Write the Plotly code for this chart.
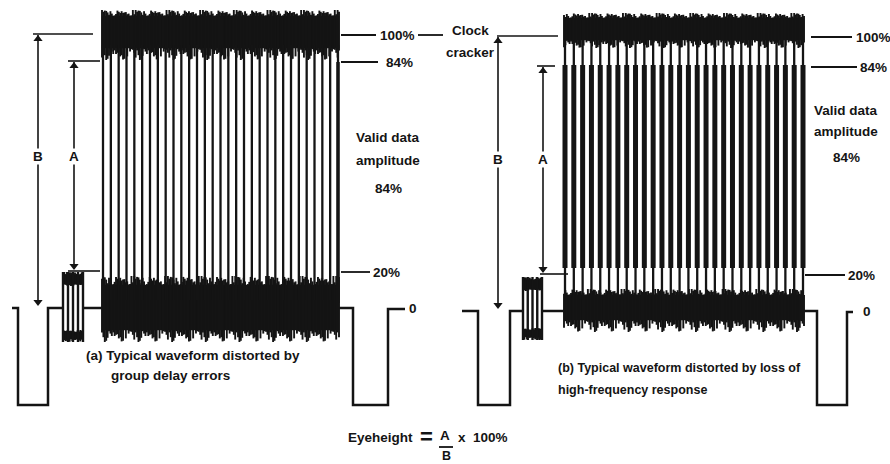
import plotly.graph_objects as go

# ---------------- data ----------------
LEVEL_LABELS = ["100%", "84%", "20%", "0"]
LEVELS_A = [35, 62, 272, 308]     # signal levels of panel (a), in drawing units (larger = lower)
LEVELS_B = [37, 67, 275, 311]     # signal levels of panel (b)
TRANSITIONS_A = 31                # data transitions visible inside each data burst
TRANSITIONS_B = 28
BURST_CYCLES = 5                  # cycles in the short clock burst before the data
VALID_TEXT = ["Valid data", "amplitude", "84%"]
CAPTION_A = ["(a) Typical waveform distorted by", "group delay errors"]
CAPTION_B = ["(b) Typical waveform distorted by loss of", "high-frequency response"]
CLOCK_TEXT = ["Clock", "cracker"]
# irregular edge pattern of the noise bands (fractions of the band edge depth)
EDGE_TEXTURE = [0.0, 0.6, 0.2, 0.9, 0.4, 0.1, 0.7, 0.3, 1.0, 0.5, 0.0, 0.8,
                0.3, 0.6, 0.1, 0.9, 0.4, 0.7, 0.2, 0.5, 0.95, 0.15, 0.65, 0.35]

# ---------------- drawing geometry ----------------
GEO_A = dict(pulse_l=[12, 18, 48], floor=405, burst=[63, 83], burst_y=[272, 342],
             block=[102, 339], pulse_r=[353, 388, 405],
             top_band=(10, 6, 48, 12), bot_band=(276, 9, 330, 12),
             thin_span=(45, 300), thick=None,
             lab_lines=[[341, 376], [341, 378], [341, 370]], lab_x=[379, 385, 372], zero_x=408,
             valid_x=388, valid_y=[137, 160, 188],
             b_x=38, b_tick=[33, 93], a_x=74, a_tick_top=[68, 100], a_tick_bot=[68, 100],
             cap=[(85, 355), (110, 375)], cap_size=13.5)
GEO_B = dict(pulse_l=[462, 478, 510], floor=405, burst=[523, 542], burst_y=[277, 340],
             block=[564, 804], pulse_r=[817, 847, 853],
             top_band=(13, 5, 40, 8), bot_band=(289, 6, 320, 12),
             thin_span=(40, 295), thick=(65, 268),
             lab_lines=[[811, 852], [811, 857], [805, 845]], lab_x=[855, 859, 847], zero_x=862,
             valid_x=846, valid_y=[110, 131, 157],
             b_x=498, b_tick=[497, 558], a_x=543, a_tick_top=[537, 555], a_tick_bot=[540, 568],
             cap=[(557, 368), (557, 390)], cap_size=12.5)

INK = "#141414"
FONT = "Liberation Sans, Arial, Helvetica, sans-serif"
TXT = 13.5

fig = go.Figure()


def add_lines(xs, ys, width):
    fig.add_trace(go.Scatter(x=xs, y=ys, mode="lines", line=dict(color=INK, width=width),
                             hoverinfo="skip", showlegend=False))


def add_fill(x0, x1, y0, y1):
    fig.add_trace(go.Scatter(x=[x0, x1, x1, x0, x0], y=[y0, y0, y1, y1, y0], mode="lines",
                             fill="toself", fillcolor=INK, line=dict(color=INK, width=0.5),
                             hoverinfo="skip", showlegend=False))


def tex(i, phase):
    return EDGE_TEXTURE[(i * 7 + phase) % len(EDGE_TEXTURE)]


def band(x0, x1, top, top_amp, bot, bot_amp, phase, step=1.4, width=1.9):
    """Dense noise band: solid core plus short vertical strokes with ragged ends."""
    add_fill(x0, x1, top + top_amp, bot)
    n = int((x1 - x0) / step) + 1
    xs, ys = [], []
    for i in range(n):
        x = x0 + i * (x1 - x0) / (n - 1)
        xs += [x, x, None]
        ys += [top + top_amp * tex(i, phase), bot + bot_amp * tex(i, phase + 11), None]
    add_lines(xs, ys, width)


def strokes(xpos, y0, y1, width):
    xs, ys = [], []
    for x in xpos:
        xs += [x, x, None]
        ys += [y0, y1, None]
    add_lines(xs, ys, width)


def text(x, y, s, size=TXT, anchor="center", bg=None):
    fig.add_annotation(x=x, y=y, text="<b>%s</b>" % s, showarrow=False, xanchor=anchor,
                       yanchor="middle", font=dict(family=FONT, size=size, color=INK),
                       bgcolor=bg, borderpad=0)


def arrow_heads(x, y_top, y_bot):
    fig.add_trace(go.Scatter(x=[x, x], y=[y_top + 4, y_bot - 4], mode="markers",
                             marker=dict(symbol=["triangle-up", "triangle-down"], size=8, color=INK),
                             hoverinfo="skip", showlegend=False))


def draw_panel(lv, g, n_trans, phase):
    l100, l84, l20, l0 = lv
    xl, xr, floor = g["pulse_l"], g["pulse_r"], g["floor"]
    bx0, bx1 = g["burst"]
    kx0, kx1 = g["block"]

    # sync pulses and blanking baseline
    add_lines([xl[0], xl[1], xl[1], xl[2], xl[2], bx0], [l0, l0, floor, floor, l0, l0], 2.5)
    add_lines([bx1, kx0 + 3], [l0, l0], 2.5)
    add_lines([kx1 - 3, xr[0], xr[0], xr[1], xr[1], xr[2]],
              [l0, l0, floor, floor, l0 + 1, l0 + 1], 2.5)

    # clock run-in burst
    by0, by1 = g["burst_y"]
    band(bx0, bx1, by0, 3, by0 + 12, 2, phase + 3, step=1.3)
    band(bx0, bx1, by1 - 12, 2, by1 - 3, 3, phase + 5, step=1.3)
    strokes([bx0 + (bx1 - bx0) * k / (BURST_CYCLES - 1) for k in range(BURST_CYCLES)], by0, by1, 2.4)

    # data burst: noise bands at the two rails and the transitions between them
    t = g["top_band"]
    band(kx0, kx1, t[0], t[1], t[2], t[3], phase)
    b = g["bot_band"]
    band(kx0, kx1, b[0], b[1], b[2], b[3], phase + 7)
    xpos = [kx0 + 1 + (kx1 - kx0 - 2) * k / (n_trans - 1) for k in range(n_trans)]
    strokes(xpos, g["thin_span"][0], g["thin_span"][1], 2.3)
    if g["thick"]:
        strokes(xpos, g["thick"][0], g["thick"][1], 5)
    else:
        strokes([xpos[-1]], l84, l0 - 5, 3.5)

    # level markers on the right
    for (x0, x1), lx, y, lab in zip(g["lab_lines"], g["lab_x"], lv[:3], LEVEL_LABELS[:3]):
        add_lines([x0, x1], [y, y], 1.8)
        text(lx, y, lab, anchor="left")
    text(g["zero_x"], l0, LEVEL_LABELS[3], anchor="left")
    for s, y in zip(VALID_TEXT, g["valid_y"]):
        text(g["valid_x"], y, s)

    # dimension arrows B (0 .. 100%) and A (20% .. 84%)
    add_lines(g["b_tick"], [l100 - 1, l100 - 1], 1.6)
    add_lines([g["b_x"], g["b_x"]], [l100, l0 - 4], 1.6)
    arrow_heads(g["b_x"], l100, l0 - 2)
    text(g["b_x"], (l100 + l0) / 2 - 15, "B", bg="white")
    add_lines(g["a_tick_top"], [l84 - 1, l84 - 1], 1.6)
    add_lines(g["a_tick_bot"], [l20 - 1, l20 - 1], 1.6)
    add_lines([g["a_x"], g["a_x"]], [l84, l20 - 3], 1.6)
    arrow_heads(g["a_x"], l84, l20 - 2)
    text(g["a_x"], (l100 + l0) / 2 - 15, "A", bg="white")

    # caption
    for (x, y), s in zip(g["cap"], g["caption"]):
        text(x, y, s, size=g["cap_size"], anchor="left")


GEO_A["caption"] = CAPTION_A
GEO_B["caption"] = CAPTION_B
draw_panel(LEVELS_A, GEO_A, TRANSITIONS_A, 0)
draw_panel(LEVELS_B, GEO_B, TRANSITIONS_B, 4)

# pointer from the 100% level to the clock cracker note
add_lines([418, 443], [LEVELS_A[0], LEVELS_A[0]], 1.8)
text(470, 30, CLOCK_TEXT[0])
text(470, 52, CLOCK_TEXT[1])

# eye height formula
text(414, 437, "Eyeheight", anchor="right")
text(426, 436, "=", size=22)
text(445, 435, "A")
add_lines([439, 453], [447, 447], 1.8)
text(446, 456, "B", size=12.5)
text(457, 437, "x  100%", anchor="left")

fig.update_layout(
    width=890, height=464, margin=dict(l=0, r=0, t=0, b=0),
    paper_bgcolor="white", plot_bgcolor="white", showlegend=False,
    xaxis=dict(range=[0, 890], visible=False, fixedrange=True),
    yaxis=dict(range=[464, 0], visible=False, fixedrange=True),
)
fig.write_html("out.html")
